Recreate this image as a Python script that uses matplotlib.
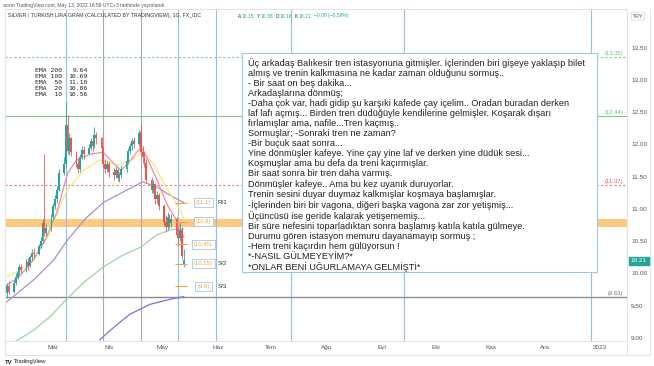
import matplotlib
matplotlib.use('Agg')
import matplotlib.pyplot as plt
import matplotlib.dates as mdates
from matplotlib.patches import Rectangle
import pandas as pd

plt.rcParams['font.family'] = ['Liberation Sans', 'DejaVu Sans']

# daily candles (business days)
dates = pd.bdate_range('2022-02-03', '2022-05-13')
opens = [9.70, 9.80, 9.72, 9.85, 9.95, 10.02, 10.10, 10.05, 10.18, 10.12, 10.25, 10.32, 10.30, 10.42, 10.50, 10.78, 10.62, 10.70,
         10.88, 11.05, 11.15, 11.30, 11.55, 11.70, 12.30, 11.90, 12.10, 11.88, 11.70, 11.62, 11.80, 11.92, 11.85, 11.95, 12.05, 11.98, 12.15, 12.10, 11.95, 11.70, 11.62,
         11.70, 11.58, 11.52, 11.60, 11.48, 11.52, 11.62, 11.75, 11.90, 11.98, 12.05, 12.00, 12.20, 11.88, 11.80, 11.72, 11.45, 11.30, 11.38, 11.15, 11.22,
         11.05, 10.80, 10.72, 10.88, 10.78, 10.85, 10.60, 10.55, 10.68, 10.15]
highs = [9.85, 9.88, 9.90, 10.00, 10.08, 10.15, 10.14, 10.22, 10.24, 10.28, 10.38, 10.40, 10.46, 10.56, 10.85, 11.85, 10.76, 10.92,
         11.10, 11.22, 11.35, 11.62, 11.80, 12.66, 12.45, 12.18, 12.12, 11.90, 11.78, 11.85, 11.98, 11.98, 12.00, 12.10, 12.08, 12.27, 12.20, 12.12, 11.98, 11.78, 11.76,
         11.75, 11.64, 11.66, 11.64, 11.58, 11.68, 11.80, 11.95, 12.02, 12.10, 12.12, 12.22, 12.32, 11.98, 11.90, 11.78, 11.50, 11.45, 11.40, 11.28, 11.25,
         11.08, 10.90, 10.95, 10.92, 10.92, 10.88, 10.70, 10.78, 10.72, 10.38]
lows = [9.62, 9.68, 9.70, 9.82, 9.92, 9.98, 10.00, 10.02, 10.05, 10.10, 10.20, 10.24, 10.28, 10.40, 10.48, 10.58, 10.58, 10.66,
        10.85, 11.00, 11.10, 11.28, 11.52, 11.65, 11.85, 11.84, 11.82, 11.65, 11.55, 11.58, 11.78, 11.78, 11.85, 11.92, 11.90, 11.95, 12.00, 11.88, 11.65, 11.55, 11.58,
        11.50, 11.45, 11.48, 11.44, 11.42, 11.48, 11.58, 11.70, 11.85, 11.92, 11.95, 11.98, 11.85, 11.72, 11.65, 11.40, 11.25, 11.25, 11.08, 11.10, 10.98,
        10.75, 10.65, 10.68, 10.70, 10.72, 10.55, 10.42, 10.50, 10.22, 10.10]
closes = [9.80, 9.72, 9.85, 9.95, 10.02, 10.10, 10.05, 10.18, 10.12, 10.25, 10.32, 10.30, 10.42, 10.50, 10.78, 10.62, 10.70, 10.88,
          11.05, 11.15, 11.30, 11.55, 11.70, 12.30, 11.90, 12.10, 11.88, 11.70, 11.62, 11.80, 11.92, 11.85, 11.95, 12.05, 11.98, 12.15, 12.10, 11.95, 11.70, 11.62, 11.70,
          11.58, 11.52, 11.60, 11.48, 11.52, 11.62, 11.75, 11.90, 11.98, 12.05, 12.00, 12.18, 11.88, 11.80, 11.72, 11.45, 11.30, 11.38, 11.15, 11.22, 11.05,
          10.80, 10.72, 10.88, 10.78, 10.85, 10.60, 10.55, 10.68, 10.27, 10.21]

# moving averages
ema10_d = ['2022-02-03', '2022-02-10', '2022-02-18', '2022-02-25', '2022-03-03', '2022-03-09', '2022-03-14', '2022-03-22',
           '2022-03-29', '2022-04-04', '2022-04-08', '2022-04-13', '2022-04-19', '2022-04-22', '2022-04-28', '2022-05-04', '2022-05-10', '2022-05-13']
ema10_v = [9.82, 9.95, 10.22, 10.55, 10.95, 11.55, 11.76, 11.85, 11.88, 11.70, 11.60, 11.75, 11.96, 11.82, 11.45, 11.05, 10.78, 10.56]
ema20_d = ['2022-02-03', '2022-02-10', '2022-02-18', '2022-02-27', '2022-03-04', '2022-03-09', '2022-03-18', '2022-03-27',
           '2022-04-06', '2022-04-13', '2022-04-20', '2022-04-26', '2022-05-04', '2022-05-11', '2022-05-13']
ema20_v = [9.95, 10.05, 10.20, 10.62, 11.00, 11.30, 11.60, 11.76, 11.68, 11.75, 11.88, 11.70, 11.30, 10.98, 10.86]
ema50_d = ['2022-02-03', '2022-02-18', '2022-03-01', '2022-03-09', '2022-03-19', '2022-03-29', '2022-04-11', '2022-04-20',
           '2022-04-28', '2022-05-06', '2022-05-13']
ema50_v = [9.56, 9.90, 10.20, 10.52, 10.85, 11.10, 11.29, 11.42, 11.34, 11.20, 11.10]
ema100_d = ['2022-02-08', '2022-02-18', '2022-02-28', '2022-03-08', '2022-03-18', '2022-03-29', '2022-04-08', '2022-04-19',
            '2022-04-28', '2022-05-06', '2022-05-13']
ema100_v = [8.95, 9.12, 9.35, 9.59, 9.86, 10.10, 10.27, 10.41, 10.60, 10.68, 10.69]
ema200_d = ['2022-03-27', '2022-04-02', '2022-04-08', '2022-04-13', '2022-04-19', '2022-04-24', '2022-05-01', '2022-05-07', '2022-05-13']
ema200_v = [8.97, 9.12, 9.26, 9.37, 9.45, 9.52, 9.57, 9.61, 9.64]

ema_names = ['EMA 200', 'EMA 100', 'EMA  50', 'EMA  20', 'EMA  10']
ema_last = ['9.64', '10.69', '11.10', '10.86', '10.56']

# horizontal levels
level_vals = [11.1, 10.8, 10.45, 10.15, 9.8]
level_tags = ['R/1', '', '', 'S/2', 'S/3']
band_lo, band_hi = 10.72, 10.85

vlines_blue = ['2022-03-08', '2022-05-10', '2022-05-31', '2022-07-12', '2022-09-13', '2022-12-27']
vlines_gray = ['2022-03-29', '2022-04-19']

months = ['2022-03-01', '2022-04-01', '2022-05-01', '2022-06-01', '2022-07-01', '2022-08-01',
          '2022-09-01', '2022-10-01', '2022-11-01', '2022-12-01', '2023-01-01']
month_labels = ['Mar', 'Nis', 'May', 'Haz', 'Tem', 'Ağu', 'Eyl', 'Eki', 'Kas', 'Ara', '2023']

story = """Üç arkadaş Balıkesir tren istasyonuna gitmişler. İçlerinden biri gişeye yaklaşıp bilet
almış ve trenin kalkmasına ne kadar zaman olduğunu sormuş..
- Bir saat on beş dakika...
Arkadaşlarına dönmüş;
-Daha çok var, hadi gidip şu karşıki kafede çay içelim.. Oradan buradan derken
laf lafı açmış... Birden tren düdüğüyle kendilerine gelmişler. Koşarak dışarı
fırlamışlar ama, nafile...Tren kaçmış..
Sormuşlar; -Sonraki tren ne zaman?
-Bir buçuk saat sonra...
Yine dönmüşler kafeye. Yine çay yine laf ve derken yine düdük sesi...
Koşmuşlar ama bu defa da treni kaçırmışlar.
Bir saat sonra bir tren daha varmış.
Dönmüşler kafeye.. Ama bu kez uyanık duruyorlar.
Trenin sesini duyar duymaz kalkmışlar koşmaya başlamışlar.
-İçlerinden biri bir vagona, diğeri başka vagona zar zor yetişmiş...
Üçüncüsü ise geride kalarak yetişememiş...
Bir süre nefesini toparladıktan sonra başlamış katıla katıla gülmeye.
Durumu gören istasyon memuru dayanamayıp sormuş ;
-Hem treni kaçırdın hem gülüyorsun !
*-NASIL GÜLMEYEYİM?*
*ONLAR BENİ UĞURLAMAYA GELMİŞTİ*"""

W, H = 654, 366


def fx(x):
    return x / W


def fy(y):
    return 1 - y / H


fig = plt.figure(figsize=(W / 100, H / 100), dpi=100)
ax = fig.add_axes([fx(5), fy(341), fx(627) - fx(5), fy(9) - fy(341)])

up = '#26a69a'
down = '#ef5350'
cols = [up if c >= o else down for o, c in zip(opens, closes)]
ax.vlines(dates, lows, highs, colors=cols, lw=0.6, zorder=4)
ax.bar(dates, [abs(c - o) for o, c in zip(opens, closes)], bottom=[min(o, c) for o, c in zip(opens, closes)],
       width=1.0, color=cols, lw=0, zorder=5)

ax.plot(pd.to_datetime(ema200_d), ema200_v, color='#7e6fd8', lw=0.9, zorder=3)
ax.plot(pd.to_datetime(ema100_d), ema100_v, color='#9fd3a0', lw=0.9, zorder=3)
ax.plot(pd.to_datetime(ema50_d), ema50_v, color='#b48ad0', lw=0.9, zorder=3)
ax.plot(pd.to_datetime(ema20_d), ema20_v, color='#f3e97a', lw=0.9, zorder=3)
ax.plot(pd.to_datetime(ema10_d), ema10_v, color='#ef8fa0', lw=0.9, zorder=3)

for d in vlines_blue:
    ax.axvline(pd.Timestamp(d), color='#8fc1e6', lw=0.8, zorder=2)
for d in vlines_gray:
    ax.axvline(pd.Timestamp(d), color='#a6a9b2', lw=0.8, zorder=2)

ax.axhspan(band_lo, band_hi, color='#fbc97f', lw=0, zorder=1)
ax.axhline(13.35, color='#81c784', lw=0.8, ls=(0, (2, 2)), zorder=2)
ax.axhline(12.44, color='#81c784', lw=0.8, zorder=2)
ax.axhline(11.37, color='#ef7d7d', lw=0.8, ls=(0, (2, 2)), zorder=2)
ax.axhline(9.63, color='#8a8d96', lw=1.0, zorder=2)

rx = pd.Timestamp('2023-01-14')
ax.text(rx, 13.37, '(13.35)', color='#6cbf70', fontsize=4.2, ha='right', va='bottom')
ax.text(rx, 12.46, '(12.44)', color='#6cbf70', fontsize=4.2, ha='right', va='bottom')
ax.text(rx, 11.39, '(11.37)', color='#ef5350', fontsize=4.2, ha='right', va='bottom')
ax.text(rx, 9.65, '(9.63)', color='#787b86', fontsize=4.2, ha='right', va='bottom')

orange = '#f2a53a'
ax.hlines(level_vals, pd.Timestamp('2022-05-08'), pd.Timestamp('2022-05-15'), color=orange, lw=0.8, zorder=6)
for v, t in zip(level_vals, level_tags):
    ax.text(pd.Timestamp('2022-05-24'), v, '(%g)' % v, color=orange, fontsize=4.2, ha='center', va='center', zorder=7,
            bbox=dict(boxstyle='square,pad=0.35', fc='white', ec='#9cc7ea', lw=0.6))
    if t:
        ax.text(pd.Timestamp('2022-06-01'), v, t, color='#333333', fontsize=4.5, ha='left', va='center')

ax.set_xlim(pd.Timestamp('2022-02-02'), pd.Timestamp('2023-01-16'))
ax.set_ylim(8.953, 14.10)
ax.yaxis.tick_right()
ax.set_yticks([9.0, 9.5, 10.0, 10.5, 11.0, 11.5, 12.0, 12.5, 13.0, 13.5])
ax.set_yticklabels(['%.2f' % v for v in ax.get_yticks()])
ax.set_xticks(pd.to_datetime(months))
ax.set_xticklabels(month_labels)
ax.tick_params(axis='both', length=0, labelsize=4.6, colors='#55585f')
ax.tick_params(axis='y', pad=3)
ax.tick_params(axis='x', pad=3)
for s in ax.spines.values():
    s.set_color('#e0e3eb')
    s.set_linewidth(0.8)

# EMA legend block
for i, (n, v) in enumerate(zip(ema_names, ema_last)):
    yy = 71 + i * 6
    fig.text(fx(35), fy(yy), n, fontsize=4.6, family='DejaVu Sans Mono', color='#222222', va='center')
    fig.text(fx(88), fy(yy), v, fontsize=4.6, family='DejaVu Sans Mono', color='#222222', va='center', ha='right')

# header texts
fig.text(fx(3), fy(5), 'aorm TradingView.com, May 13, 2022 16:59 UTC+3 tarihinde yayınlandı',
         fontsize=3.6, color='#555555', va='center')
fig.text(fx(8), fy(16), 'SILVER / TURKISH LIRA GRAM (CALCULATED BY TRADINGVIEW), 1G, FX_IDC',
         fontsize=3.8, color='#333333', va='center')
ohlc = [('A', '10.15', 238), ('Y', '10.38', 257), ('D', '10.16', 276), ('K', '10.21', 295)]
for k, v, x in ohlc:
    fig.text(fx(x), fy(16), k, fontsize=3.6, color='#333333', va='center')
    fig.text(fx(x + 3.5), fy(16), v, fontsize=3.6, color=up, va='center')
fig.text(fx(314), fy(16), '−0.06 (−0.59%)', fontsize=3.6, color=up, va='center')

fig.text(fx(638), fy(16), 'TRY', fontsize=3.8, color='#555555', ha='center', va='center',
         bbox=dict(boxstyle='round,pad=0.3', fc='white', ec='#d0d3db', lw=0.5))
fig.text(fx(639), fy(261), '10.21', fontsize=4.6, color='white', ha='center', va='center',
         bbox=dict(boxstyle='square,pad=0.25', fc=up, ec=up))

# outer frame lines of the price and time scales
fig.add_artist(plt.Line2D([fx(5), fx(650)], [fy(355), fy(355)], color='#e0e3eb', lw=0.8))
fig.add_artist(plt.Line2D([fx(650), fx(650)], [fy(9), fy(355)], color='#e0e3eb', lw=0.8))
fig.add_artist(plt.Line2D([fx(627), fx(627)], [fy(341), fy(355)], color='#e0e3eb', lw=0.8))
fig.add_artist(plt.Line2D([fx(5), fx(5)], [fy(341), fy(355)], color='#e0e3eb', lw=0.8))

fig.text(fx(5), fy(362), 'TV', fontsize=4.2, weight='bold', color='#131722', va='center')
fig.text(fx(14), fy(362), 'TradingView', fontsize=4.2, color='#131722', va='center')

# note box
fig.add_artist(Rectangle((fx(242), fy(272)), fx(597) - fx(242), fy(53) - fy(272),
                         transform=fig.transFigure, fc='white', ec='#9cc7ea', lw=0.8, zorder=5))
fig.text(fx(248), fy(58), story, fontsize=6.6, color='#222222', va='top', ha='left',
         linespacing=1.15, zorder=6)

fig.savefig('out.png', dpi=100)
